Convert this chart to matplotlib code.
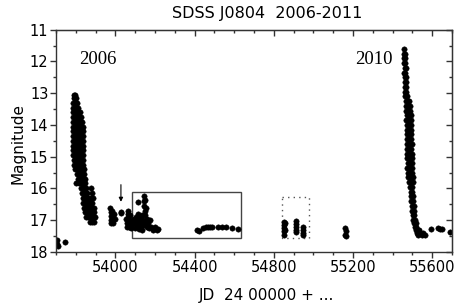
import matplotlib
matplotlib.use("Agg")
import matplotlib.pyplot as plt
from matplotlib.ticker import MultipleLocator
from matplotlib.patches import Rectangle

# quiescence before 2006 outburst
jd_pre = [53703, 53705, 53708, 53745]
mag_pre = [17.62, 17.74, 17.80, 17.68]

# 2006 outburst: (magnitude, list of JDs at that magnitude)
rows_2006 = [
    (13.05, [53792, 53797]),
    (13.15, [53789, 53795, 53801]),
    (13.30, [53788, 53794, 53800, 53806]),
    (13.45, [53788, 53795, 53802, 53810]),
    (13.60, [53787, 53794, 53802, 53812, 53820]),
    (13.75, [53788, 53796, 53805, 53815, 53826]),
    (13.90, [53787, 53795, 53804, 53814, 53824, 53833]),
    (14.05, [53788, 53797, 53806, 53816, 53826, 53835]),
    (14.20, [53787, 53795, 53805, 53815, 53825, 53834]),
    (14.35, [53788, 53797, 53807, 53817, 53827, 53836]),
    (14.50, [53787, 53796, 53806, 53816, 53826, 53835]),
    (14.65, [53788, 53798, 53808, 53818, 53828, 53836]),
    (14.80, [53787, 53796, 53806, 53816, 53826, 53834]),
    (14.95, [53788, 53797, 53807, 53817, 53827, 53835]),
    (15.10, [53789, 53798, 53808, 53818, 53828, 53836]),
    (15.25, [53790, 53800, 53810, 53820, 53830, 53838]),
    (15.40, [53795, 53804, 53814, 53824, 53834, 53840]),
    (15.55, [53805, 53815, 53825, 53835, 53843]),
    (15.70, [53812, 53822, 53832, 53842, 53848]),
    (15.84, [53801, 53818, 53828, 53838, 53848]),
    (16.00, [53826, 53835, 53845, 53853, 53876]),
    (16.15, [53830, 53840, 53850, 53858, 53880]),
    (16.30, [53834, 53844, 53854, 53862, 53878, 53886]),
    (16.45, [53838, 53848, 53858, 53866, 53876, 53884]),
    (16.60, [53842, 53852, 53862, 53870, 53880, 53890]),
    (16.75, [53846, 53856, 53866, 53874, 53884, 53892]),
    (16.90, [53852, 53862, 53872, 53882, 53890, 53895]),
    (17.05, [53870, 53882, 53893]),
]

# late 2006 / 2007 - 2008 quiescence
jd_q1 = [53975, 53978, 53976, 53979, 53977, 53985, 53988, 53986, 53990, 53995, 53997,
         54028, 54030,
         54056, 54058, 54060, 54062, 54065, 54066, 54068, 54070, 54074, 54076, 54078, 54080]
mag_q1 = [16.62, 16.75, 16.88, 17.00, 17.10, 16.70, 16.85, 16.98, 17.10, 16.80, 16.95,
          16.73, 16.78,
          16.95, 17.10, 17.20, 16.80, 16.70, 16.90, 17.05, 17.20, 16.85, 17.00, 17.15, 17.25]

# points inside the solid box
jd_box = [54092, 54095, 54098, 54102, 54105, 54108, 54112, 54114, 54116, 54118, 54120,
          54124, 54126, 54128, 54132, 54136, 54138, 54140, 54143, 54145, 54147, 54149,
          54150, 54152, 54154, 54156, 54158, 54162, 54166, 54170, 54176, 54182, 54188,
          54198, 54210, 54216,
          54410, 54420, 54440, 54460, 54470, 54480, 54490, 54520, 54540, 54560, 54590, 54620]
mag_box = [16.95, 17.10, 17.25, 16.90, 17.05, 17.20, 16.80, 17.00, 16.43, 17.15, 17.28,
           16.90, 17.05, 17.20, 17.30, 16.85, 17.00, 17.15, 16.25, 16.40, 16.55, 16.70,
           16.85, 16.35, 16.60, 17.05, 17.20, 16.95, 17.10, 17.25, 17.00, 17.20, 17.30,
           17.22, 17.30, 17.28,
           17.30, 17.35, 17.25, 17.22, 17.20, 17.20, 17.22, 17.20, 17.22, 17.22, 17.25, 17.28]

# 2009 (dotted box) and early 2010
jd_q2 = [54850, 54852, 54850, 54853, 54851, 54856, 54856,
         54910, 54912, 54910, 54912, 54914,
         54945, 54947, 54945, 54947,
         55162, 55164, 55162, 55164]
mag_q2 = [17.05, 17.15, 17.25, 17.35, 17.45, 17.10, 17.30,
          17.02, 17.12, 17.22, 17.32, 17.36,
          17.20, 17.30, 17.40, 17.48,
          17.25, 17.35, 17.45, 17.50]

# 2010 outburst
rows_2010 = [
    (11.60, [55460]),
    (11.75, [55459, 55463]),
    (11.90, [55460, 55464]),
    (12.05, [55459, 55465]),
    (12.20, [55461, 55466]),
    (12.35, [55460, 55465]),
    (12.50, [55461, 55467]),
    (12.65, [55462, 55468]),
    (12.80, [55462, 55469]),
    (12.95, [55463, 55470]),
    (13.10, [55465, 55472]),
    (13.25, [55468, 55476, 55484]),
    (13.40, [55470, 55478, 55488]),
    (13.55, [55469, 55479, 55490]),
    (13.70, [55471, 55481, 55492]),
    (13.85, [55470, 55480, 55491]),
    (14.00, [55472, 55482, 55494]),
    (14.15, [55471, 55481, 55492]),
    (14.30, [55473, 55483, 55494]),
    (14.45, [55472, 55482, 55493]),
    (14.60, [55474, 55484, 55496]),
    (14.75, [55473, 55483, 55495]),
    (14.90, [55475, 55485, 55497]),
    (15.05, [55474, 55484, 55496]),
    (15.20, [55476, 55486, 55498]),
    (15.35, [55475, 55486, 55499]),
    (15.50, [55477, 55488, 55500]),
    (15.65, [55480, 55490, 55501]),
    (15.80, [55484, 55493, 55502]),
    (15.95, [55489, 55498]),
    (16.10, [55491, 55500]),
    (16.25, [55493, 55502]),
    (16.40, [55495, 55504]),
    (16.55, [55497, 55506]),
    (16.70, [55499, 55508]),
    (16.85, [55501, 55510]),
    (17.00, [55504, 55513]),
    (17.10, [55508, 55516]),
    (17.20, [55512, 55520]),
    (17.30, [55518, 55526, 55534]),
    (17.40, [55522, 55530, 55540, 55556]),
    (17.45, [55528, 55546, 55562]),
]
jd_post = [55594, 55631, 55640, 55648, 55690]
mag_post = [17.29, 17.23, 17.27, 17.28, 17.36]

# marked regions
solid_box = (54085, 16.12, 54634, 17.55)
dotted_box = (54840, 16.26, 54979, 17.55)
arrow_jd = 54028


def flatten(rows):
    xs, ys = [], []
    for m, jds in rows:
        for j in jds:
            xs.append(j)
            ys.append(m)
    return xs, ys


jd06, mag06 = flatten(rows_2006)
jd10, mag10 = flatten(rows_2010)

fig = plt.figure(figsize=(4.54, 3.05), dpi=100)
ax = fig.add_axes([0.1233, 0.1738, 0.8723, 0.7288])

spine_c = "#333333"
for x, y in [(jd_pre, mag_pre), (jd06, mag06), (jd_q1, mag_q1), (jd_box, mag_box),
             (jd_q2, mag_q2), (jd10, mag10), (jd_post, mag_post)]:
    ax.plot(x, y, "o", color="black", ms=3.9, mec="black", mew=0.3)

x0, y0, x1, y1 = solid_box
ax.add_patch(Rectangle((x0, y0), x1 - x0, y1 - y0, fill=False, ec="#444444", lw=1.0))
x0, y0, x1, y1 = dotted_box
ax.add_patch(Rectangle((x0, y0), x1 - x0, y1 - y0, fill=False, ec="#555555", lw=1.0,
                       ls=(0, (1, 3))))

ax.annotate("", xy=(arrow_jd, 16.42), xytext=(arrow_jd, 15.88),
            arrowprops=dict(arrowstyle="-|>", color="black", lw=0.8,
                            mutation_scale=6, shrinkA=0, shrinkB=0))

ax.text(53912, 11.95, "2006", family="Liberation Serif", fontsize=13.5,
        ha="center", va="center")
ax.text(55306, 11.95, "2010", family="Liberation Serif", fontsize=13.5,
        ha="center", va="center")

ax.set_xlim(53700, 55700)
ax.set_ylim(18, 11)
ax.xaxis.set_major_locator(MultipleLocator(400))
ax.xaxis.set_minor_locator(MultipleLocator(100))
ax.yaxis.set_major_locator(MultipleLocator(1))
ax.yaxis.set_minor_locator(MultipleLocator(0.5))
ax.tick_params(which="both", direction="out", colors=spine_c, labelcolor="black",
               labelsize=10.5, width=1)
ax.tick_params(which="major", length=4, pad=1.5)
ax.tick_params(which="minor", length=2.5)
for s in ax.spines.values():
    s.set_color(spine_c)
    s.set_linewidth(1)

# inward ticks on top and right
top = ax.secondary_xaxis("top")
top.xaxis.set_major_locator(MultipleLocator(400))
top.xaxis.set_minor_locator(MultipleLocator(100))
top.tick_params(which="both", direction="in", labeltop=False, colors=spine_c, width=1)
top.tick_params(which="major", length=4)
top.tick_params(which="minor", length=2.5)
right = ax.secondary_yaxis("right")
right.yaxis.set_major_locator(MultipleLocator(1))
right.yaxis.set_minor_locator(MultipleLocator(0.5))
right.tick_params(which="both", direction="in", labelright=False, colors=spine_c, width=1)
right.tick_params(which="major", length=4)
right.tick_params(which="minor", length=2.5)

fig.text(0.589, 0.957, "SDSS J0804  2006-2011", fontsize=11.5, ha="center", va="center")
fig.text(0.586, 0.03, "JD  24 00000 + ...", fontsize=11, ha="center", va="center")
fig.text(0.04, 0.528, "Magnitude", fontsize=11, rotation=90, ha="center", va="center")

fig.savefig("out.png", dpi=100)
